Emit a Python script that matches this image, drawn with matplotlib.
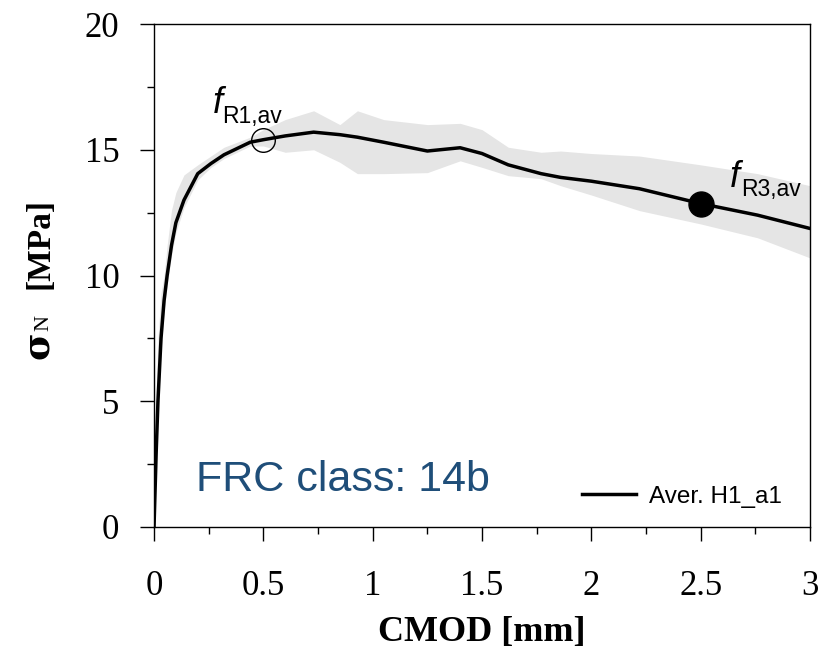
import matplotlib
matplotlib.use("Agg")
import matplotlib.pyplot as plt

# Averaged curve and scatter band
cmod = [0, 0.005, 0.01, 0.018, 0.032, 0.046, 0.06, 0.08, 0.1, 0.137, 0.2, 0.26, 0.32,
        0.44, 0.5, 0.6, 0.73, 0.85, 0.93, 1.05, 1.25, 1.4, 1.5, 1.62, 1.77, 1.86,
        2.0, 2.22, 2.5, 2.76, 3.0]
sigma_mean = [0, 1.5, 3.0, 5.0, 7.5, 9.0, 10.0, 11.2, 12.1, 13.0, 14.05, 14.45, 14.8,
              15.3, 15.4, 15.55, 15.7, 15.6, 15.5, 15.3, 14.95, 15.08, 14.85, 14.4, 14.05, 13.9,
              13.75, 13.45, 12.86, 12.4, 11.87]
sigma_upper = [0, 3.0, 5.5, 7.5, 9.3, 10.0, 11.2, 12.6, 13.3, 14.0, 14.4, 14.75, 15.1,
               15.5, 15.8, 16.2, 16.55, 16.0, 16.55, 16.2, 16.0, 16.05, 15.8, 15.1, 14.9, 14.95,
               14.85, 14.75, 14.4, 14.05, 13.57]
sigma_lower = [0, 1.2, 2.6, 4.5, 7.0, 8.6, 9.6, 10.8, 11.7, 12.7, 13.8, 14.3, 14.65,
               15.15, 15.15, 14.9, 15.0, 14.5, 14.05, 14.05, 14.09, 14.56, 14.3, 13.97, 13.85, 13.57,
               13.2, 12.58, 12.05, 11.5, 10.7]

fr1 = (0.5, 15.4)
fr3 = (2.5, 12.86)

serif = "Liberation Serif"
sans = "Liberation Sans"

W, H = 821, 649
fig = plt.figure(figsize=(W / 100, H / 100), dpi=100)
ax = fig.add_axes([0.1876, 0.188, 0.799, 0.775])

ax.fill_between(cmod, sigma_lower, sigma_upper, color="#e5e5e5", linewidth=0, zorder=1)
ax.plot(cmod, sigma_mean, color="black", linewidth=2.5, label="Aver. H1_a1", zorder=3)
ax.plot(*fr1, marker="o", markersize=17, markerfacecolor="none",
        markeredgecolor="black", markeredgewidth=1, zorder=4)
ax.plot(*fr3, marker="o", markersize=18, color="black", zorder=4)

# f_R labels: italic f with a smaller subscript next to it
for (fx, fy), sub, (dx, dy) in [((0.269, 16.47), "R1,av", (7.0, -7.2)),
                                ((2.635, 13.5), "R3,av", (8.0, -6.0))]:
    ax.text(fx, fy, "f", fontsize=26, family=sans, style="italic", va="baseline")
    ax.annotate(sub, xy=(fx, fy), xytext=(dx, dy), textcoords="offset points",
                fontsize=16.5, family=sans, va="baseline")

ax.text(0.19, 1.45, "FRC class: 14b", fontsize=31, family=sans, color="#1f4e79")

ax.set_xlim(0, 3)
ax.set_ylim(0, 20)
ax.set_xticks([0, 0.5, 1, 1.5, 2, 2.5, 3])
ax.set_xticklabels(["0", "0.5", "1", "1.5", "2", "2.5", "3"])
ax.set_xticks([0.25, 0.75, 1.25, 1.75, 2.25, 2.75], minor=True)
ax.set_yticks([0, 5, 10, 15, 20])
ax.set_yticks([2.5, 7.5, 12.5, 17.5], minor=True)
ax.tick_params(which="major", direction="out", length=10, width=1, labelsize=25)
ax.tick_params(which="minor", direction="out", length=5, width=1)
ax.tick_params(axis="x", which="major", pad=21)
ax.tick_params(axis="y", which="major", pad=15)
for lab in ax.get_xticklabels() + ax.get_yticklabels():
    lab.set_family(serif)
for s in ax.spines.values():
    s.set_linewidth(1)

ax.set_xlabel("CMOD [mm]", family=serif, fontsize=26, fontweight="bold", labelpad=9)

# y label built from pieces: large sigma, small N, then the unit
ylab = [("σ", 359, 27, "bold", "DejaVu Serif"), ("N", 331, 16, "normal", serif),
        ("[MPa]", 289, 24, "bold", serif)]
for txt, ystart, size, weight, fam in ylab:
    fig.text(48 / W, 1 - ystart / H, txt, rotation=90, rotation_mode="anchor",
             ha="left", va="baseline", family=fam, fontsize=size, fontweight=weight)

ax.legend(loc="center left", bbox_to_anchor=(0.652, 0.06), frameon=False,
          borderpad=0, borderaxespad=0, handlelength=2.25, handletextpad=0.5,
          prop={"family": sans, "size": 17.5})

fig.savefig("out.png", dpi=100)
